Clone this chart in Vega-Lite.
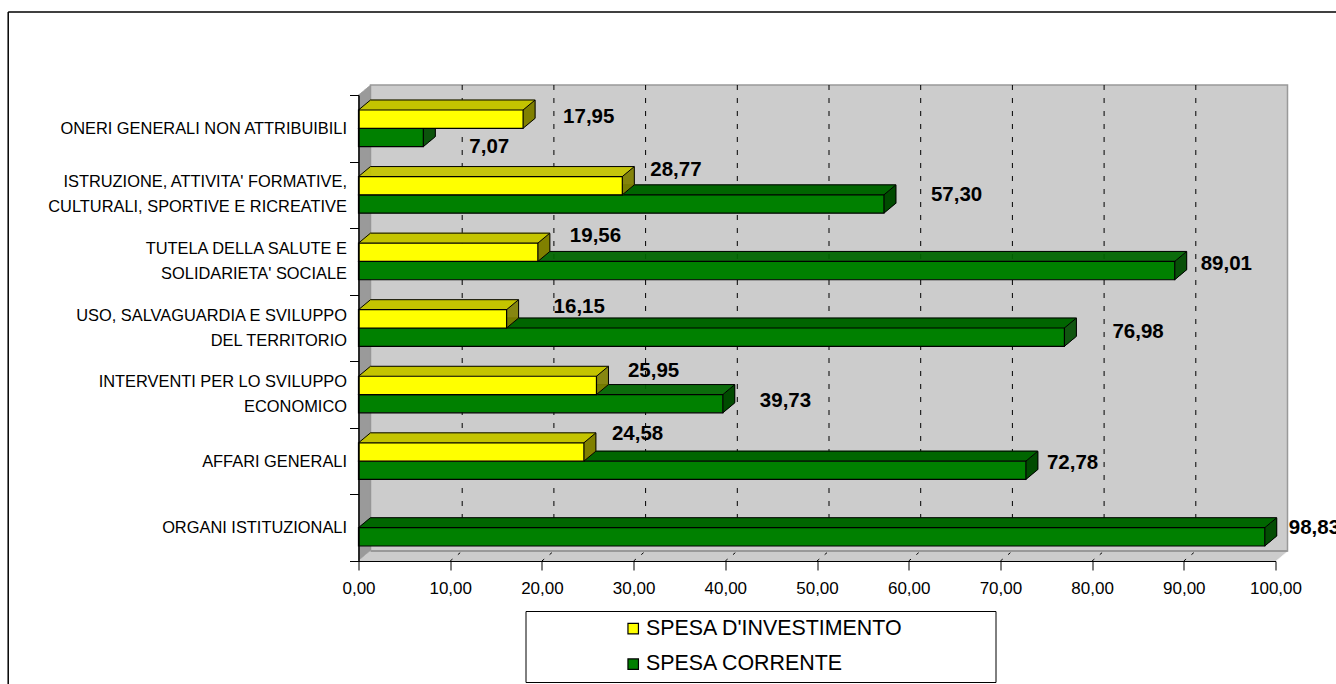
{"$schema":"https://vega.github.io/schema/vega-lite/v6.json","width":917,"height":466,"autosize":"none","padding":{"left":358.5,"top":95,"right":60.5,"bottom":123},"background":"white",
"config":{"view":{"stroke":null},"font":"Liberation Sans","locale":{"number":{"decimal":",","thousands":".","grouping":[3],"currency":["","€"]}}},
"datasets":{
"verde":[{"c":"ONERI GENERALI NON ATTRIBUIBILI","v":7.07,"s":"SPESA CORRENTE"},{"c":"ISTRUZIONE, ATTIVITA' FORMATIVE,|CULTURALI, SPORTIVE E RICREATIVE","v":57.30,"s":"SPESA CORRENTE"},{"c":"TUTELA DELLA SALUTE E|SOLIDARIETA' SOCIALE","v":89.01,"s":"SPESA CORRENTE"},{"c":"USO, SALVAGUARDIA E SVILUPPO|DEL TERRITORIO","v":76.98,"s":"SPESA CORRENTE"},{"c":"INTERVENTI PER LO SVILUPPO|ECONOMICO","v":39.73,"s":"SPESA CORRENTE"},{"c":"AFFARI GENERALI","v":72.78,"s":"SPESA CORRENTE"},{"c":"ORGANI ISTITUZIONALI","v":98.83,"s":"SPESA CORRENTE"}],
"giallo":[{"c":"ONERI GENERALI NON ATTRIBUIBILI","v":17.95,"s":"SPESA D'INVESTIMENTO"},{"c":"ISTRUZIONE, ATTIVITA' FORMATIVE,|CULTURALI, SPORTIVE E RICREATIVE","v":28.77,"s":"SPESA D'INVESTIMENTO"},{"c":"TUTELA DELLA SALUTE E|SOLIDARIETA' SOCIALE","v":19.56,"s":"SPESA D'INVESTIMENTO"},{"c":"USO, SALVAGUARDIA E SVILUPPO|DEL TERRITORIO","v":16.15,"s":"SPESA D'INVESTIMENTO"},{"c":"INTERVENTI PER LO SVILUPPO|ECONOMICO","v":25.95,"s":"SPESA D'INVESTIMENTO"},{"c":"AFFARI GENERALI","v":24.58,"s":"SPESA D'INVESTIMENTO"}],
"griglia":[{"t":10,"c":"ORGANI ISTITUZIONALI"},{"t":20,"c":"ORGANI ISTITUZIONALI"},{"t":30,"c":"ORGANI ISTITUZIONALI"},{"t":40,"c":"ORGANI ISTITUZIONALI"},{"t":50,"c":"ORGANI ISTITUZIONALI"},{"t":60,"c":"ORGANI ISTITUZIONALI"},{"t":70,"c":"ORGANI ISTITUZIONALI"},{"t":80,"c":"ORGANI ISTITUZIONALI"},{"t":90,"c":"ORGANI ISTITUZIONALI"}],
"sfondo":[{"a":0,"b":100,"c":"ORGANI ISTITUZIONALI"}]},
"layer":[
{"data":{"name":"sfondo"},"layer":[
{"mark":{"type":"rect","fill":"#CCCCCC","stroke":"#999999","strokeWidth":1.5,"xOffset":12,"x2Offset":12,"yOffset":-442.7,"y2Offset":23.3},"encoding":{"x":{"field":"a","type":"quantitative"},"x2":{"field":"b"},"y":{"field":"c","type":"nominal"},"y2":{"field":"c"}}},
{"mark":{"type":"rule","stroke":"#969696","strokeWidth":1.6,"xOffset":0.5,"yOffset":-433.1,"y2Offset":32.9},"encoding":{"x":{"field":"a","type":"quantitative"},"y":{"field":"c","type":"nominal"},"y2":{"field":"c"}}},
{"mark":{"type":"rule","stroke":"#969696","strokeWidth":1.6,"xOffset":1.5,"yOffset":-433.95,"y2Offset":32.05},"encoding":{"x":{"field":"a","type":"quantitative"},"y":{"field":"c","type":"nominal"},"y2":{"field":"c"}}},
{"mark":{"type":"rule","stroke":"#969696","strokeWidth":1.6,"xOffset":2.5,"yOffset":-434.8,"y2Offset":31.2},"encoding":{"x":{"field":"a","type":"quantitative"},"y":{"field":"c","type":"nominal"},"y2":{"field":"c"}}},
{"mark":{"type":"rule","stroke":"#969696","strokeWidth":1.6,"xOffset":3.5,"yOffset":-435.6,"y2Offset":30.4},"encoding":{"x":{"field":"a","type":"quantitative"},"y":{"field":"c","type":"nominal"},"y2":{"field":"c"}}},
{"mark":{"type":"rule","stroke":"#969696","strokeWidth":1.6,"xOffset":4.5,"yOffset":-436.45,"y2Offset":29.55},"encoding":{"x":{"field":"a","type":"quantitative"},"y":{"field":"c","type":"nominal"},"y2":{"field":"c"}}},
{"mark":{"type":"rule","stroke":"#969696","strokeWidth":1.6,"xOffset":5.5,"yOffset":-437.3,"y2Offset":28.7},"encoding":{"x":{"field":"a","type":"quantitative"},"y":{"field":"c","type":"nominal"},"y2":{"field":"c"}}},
{"mark":{"type":"rule","stroke":"#969696","strokeWidth":1.6,"xOffset":6.5,"yOffset":-438.1,"y2Offset":27.9},"encoding":{"x":{"field":"a","type":"quantitative"},"y":{"field":"c","type":"nominal"},"y2":{"field":"c"}}},
{"mark":{"type":"rule","stroke":"#969696","strokeWidth":1.6,"xOffset":7.5,"yOffset":-438.95,"y2Offset":27.05},"encoding":{"x":{"field":"a","type":"quantitative"},"y":{"field":"c","type":"nominal"},"y2":{"field":"c"}}},
{"mark":{"type":"rule","stroke":"#969696","strokeWidth":1.6,"xOffset":8.5,"yOffset":-439.8,"y2Offset":26.2},"encoding":{"x":{"field":"a","type":"quantitative"},"y":{"field":"c","type":"nominal"},"y2":{"field":"c"}}},
{"mark":{"type":"rule","stroke":"#969696","strokeWidth":1.6,"xOffset":9.5,"yOffset":-440.6,"y2Offset":25.4},"encoding":{"x":{"field":"a","type":"quantitative"},"y":{"field":"c","type":"nominal"},"y2":{"field":"c"}}},
{"mark":{"type":"rule","stroke":"#969696","strokeWidth":1.6,"xOffset":10.5,"yOffset":-441.45,"y2Offset":24.55},"encoding":{"x":{"field":"a","type":"quantitative"},"y":{"field":"c","type":"nominal"},"y2":{"field":"c"}}},
{"mark":{"type":"rule","stroke":"#969696","strokeWidth":1.6,"xOffset":11.5,"yOffset":-442.3,"y2Offset":23.7},"encoding":{"x":{"field":"a","type":"quantitative"},"y":{"field":"c","type":"nominal"},"y2":{"field":"c"}}},
{"mark":{"type":"rule","stroke":"#CCCCCC","strokeWidth":1.6,"xOffset":0.6,"x2Offset":0.6,"yOffset":32.8},"encoding":{"x":{"field":"a","type":"quantitative"},"x2":{"field":"b"},"y":{"field":"c","type":"nominal"}}},
{"mark":{"type":"rule","stroke":"#CCCCCC","strokeWidth":1.6,"xOffset":1.8,"x2Offset":1.8,"yOffset":31.8},"encoding":{"x":{"field":"a","type":"quantitative"},"x2":{"field":"b"},"y":{"field":"c","type":"nominal"}}},
{"mark":{"type":"rule","stroke":"#CCCCCC","strokeWidth":1.6,"xOffset":3,"x2Offset":3,"yOffset":30.8},"encoding":{"x":{"field":"a","type":"quantitative"},"x2":{"field":"b"},"y":{"field":"c","type":"nominal"}}},
{"mark":{"type":"rule","stroke":"#CCCCCC","strokeWidth":1.6,"xOffset":4.2,"x2Offset":4.2,"yOffset":29.8},"encoding":{"x":{"field":"a","type":"quantitative"},"x2":{"field":"b"},"y":{"field":"c","type":"nominal"}}},
{"mark":{"type":"rule","stroke":"#CCCCCC","strokeWidth":1.6,"xOffset":5.4,"x2Offset":5.4,"yOffset":28.8},"encoding":{"x":{"field":"a","type":"quantitative"},"x2":{"field":"b"},"y":{"field":"c","type":"nominal"}}},
{"mark":{"type":"rule","stroke":"#CCCCCC","strokeWidth":1.6,"xOffset":6.6,"x2Offset":6.6,"yOffset":27.8},"encoding":{"x":{"field":"a","type":"quantitative"},"x2":{"field":"b"},"y":{"field":"c","type":"nominal"}}},
{"mark":{"type":"rule","stroke":"#CCCCCC","strokeWidth":1.6,"xOffset":7.8,"x2Offset":7.8,"yOffset":26.8},"encoding":{"x":{"field":"a","type":"quantitative"},"x2":{"field":"b"},"y":{"field":"c","type":"nominal"}}},
{"mark":{"type":"rule","stroke":"#CCCCCC","strokeWidth":1.6,"xOffset":9,"x2Offset":9,"yOffset":25.8},"encoding":{"x":{"field":"a","type":"quantitative"},"x2":{"field":"b"},"y":{"field":"c","type":"nominal"}}},
{"mark":{"type":"rule","stroke":"#CCCCCC","strokeWidth":1.6,"xOffset":10.2,"x2Offset":10.2,"yOffset":24.8},"encoding":{"x":{"field":"a","type":"quantitative"},"x2":{"field":"b"},"y":{"field":"c","type":"nominal"}}},
{"mark":{"type":"rule","stroke":"#CCCCCC","strokeWidth":1.6,"xOffset":11.4,"x2Offset":11.4,"yOffset":23.8},"encoding":{"x":{"field":"a","type":"quantitative"},"x2":{"field":"b"},"y":{"field":"c","type":"nominal"}}},
{"mark":{"type":"rule","stroke":"#999999","strokeWidth":2,"xOffset":12,"x2Offset":12,"yOffset":23.3},"encoding":{"x":{"field":"a","type":"quantitative"},"x2":{"field":"b"},"y":{"field":"c","type":"nominal"}}},
{"mark":{"type":"rule","stroke":"black","strokeWidth":1.5,"yOffset":-515.7,"y2Offset":165},"encoding":{"x":{"datum":-38.2,"type":"quantitative"},"y":{"field":"c","type":"nominal"},"y2":{"field":"c"}}},
{"mark":{"type":"rule","stroke":"black","strokeWidth":1.5,"yOffset":-515.7},"encoding":{"x":{"datum":-38.2,"type":"quantitative"},"x2":{"datum":107},"y":{"field":"c","type":"nominal"}}}
]},
{"data":{"name":"griglia"},"mark":{"type":"rule","stroke":"black","strokeWidth":1,"strokeDash":[5,8],"xOffset":12,"yOffset":-442.7,"y2Offset":23.3},"encoding":{"x":{"field":"t","type":"quantitative"},"y":{"field":"c","type":"nominal"},"y2":{"field":"c"}}},
{"data":{"name":"griglia"},"mark":{"type":"rule","stroke":"black","strokeWidth":1,"strokeDash":[3,7],"x2Offset":12,"yOffset":33.3,"y2Offset":23.3},"encoding":{"x":{"field":"t","type":"quantitative"},"x2":{"field":"t"},"y":{"field":"c","type":"nominal"},"y2":{"field":"c"}}},
{"encoding":{
"x":{"field":"v","type":"quantitative","title":null,"scale":{"domain":[0,100],"nice":false,"zero":false},"axis":{"values":[0,10,20,30,40,50,60,70,80,90,100],"format":".2f","grid":false,"zindex":1,"domainColor":"black","tickColor":"black","tickSize":9,"labelFontSize":17,"labelColor":"black","labelPadding":10,"labelFlush":false,"labelOverlap":false,"labelFont":"Liberation Sans"}},
"y":{"field":"c","type":"nominal","title":null,"sort":null,"scale":{"domain":["ONERI GENERALI NON ATTRIBUIBILI","ISTRUZIONE, ATTIVITA' FORMATIVE,|CULTURALI, SPORTIVE E RICREATIVE","TUTELA DELLA SALUTE E|SOLIDARIETA' SOCIALE","USO, SALVAGUARDIA E SVILUPPO|DEL TERRITORIO","INTERVENTI PER LO SVILUPPO|ECONOMICO","AFFARI GENERALI","ORGANI ISTITUZIONALI"]},"axis":{"labelExpr":"split(datum.label,'|')","labelOffset":{"condition":{"test":"indexof(datum.label,'|')>=0","value":-13},"value":0},"tickBand":"extent","zindex":1,"domainColor":"black","domainWidth":1.5,"tickColor":"black","tickSize":9,"labelFontSize":16.4,"labelLineHeight":25,"labelColor":"black","labelPadding":3,"labelLimit":340,"labelFont":"Liberation Sans"}}},
"layer":[
{"data":{"name":"verde"},"layer":[
{"mark":{"type":"rule","stroke":"#006600","strokeWidth":1.6,"xOffset":0.6,"x2Offset":0.6,"yOffset":-0.5},"encoding":{"x2":{"datum":0}}},
{"mark":{"type":"rule","stroke":"#006600","strokeWidth":1.6,"xOffset":1.8,"x2Offset":1.8,"yOffset":-1.5},"encoding":{"x2":{"datum":0}}},
{"mark":{"type":"rule","stroke":"#006600","strokeWidth":1.6,"xOffset":3,"x2Offset":3,"yOffset":-2.5},"encoding":{"x2":{"datum":0}}},
{"mark":{"type":"rule","stroke":"#006600","strokeWidth":1.6,"xOffset":4.2,"x2Offset":4.2,"yOffset":-3.5},"encoding":{"x2":{"datum":0}}},
{"mark":{"type":"rule","stroke":"#006600","strokeWidth":1.6,"xOffset":5.4,"x2Offset":5.4,"yOffset":-4.5},"encoding":{"x2":{"datum":0}}},
{"mark":{"type":"rule","stroke":"#006600","strokeWidth":1.6,"xOffset":6.6,"x2Offset":6.6,"yOffset":-5.5},"encoding":{"x2":{"datum":0}}},
{"mark":{"type":"rule","stroke":"#006600","strokeWidth":1.6,"xOffset":7.8,"x2Offset":7.8,"yOffset":-6.5},"encoding":{"x2":{"datum":0}}},
{"mark":{"type":"rule","stroke":"#006600","strokeWidth":1.6,"xOffset":9,"x2Offset":9,"yOffset":-7.5},"encoding":{"x2":{"datum":0}}},
{"mark":{"type":"rule","stroke":"#006600","strokeWidth":1.6,"xOffset":10.2,"x2Offset":10.2,"yOffset":-8.5},"encoding":{"x2":{"datum":0}}},
{"mark":{"type":"rule","stroke":"#006600","strokeWidth":1.6,"xOffset":11.4,"x2Offset":11.4,"yOffset":-9.5},"encoding":{"x2":{"datum":0}}},
{"mark":{"type":"rule","stroke":"black","strokeWidth":1,"xOffset":12,"x2Offset":12,"yOffset":-10},"encoding":{"x2":{"datum":0}}},
{"mark":{"type":"tick","color":"#004C00","opacity":1,"size":18.3,"thickness":1.4,"xOffset":0.5,"yOffset":8.73}},
{"mark":{"type":"tick","color":"#004C00","opacity":1,"size":18.3,"thickness":1.4,"xOffset":1.5,"yOffset":7.9}},
{"mark":{"type":"tick","color":"#004C00","opacity":1,"size":18.3,"thickness":1.4,"xOffset":2.5,"yOffset":7.07}},
{"mark":{"type":"tick","color":"#004C00","opacity":1,"size":18.3,"thickness":1.4,"xOffset":3.5,"yOffset":6.23}},
{"mark":{"type":"tick","color":"#004C00","opacity":1,"size":18.3,"thickness":1.4,"xOffset":4.5,"yOffset":5.4}},
{"mark":{"type":"tick","color":"#004C00","opacity":1,"size":18.3,"thickness":1.4,"xOffset":5.5,"yOffset":4.57}},
{"mark":{"type":"tick","color":"#004C00","opacity":1,"size":18.3,"thickness":1.4,"xOffset":6.5,"yOffset":3.73}},
{"mark":{"type":"tick","color":"#004C00","opacity":1,"size":18.3,"thickness":1.4,"xOffset":7.5,"yOffset":2.9}},
{"mark":{"type":"tick","color":"#004C00","opacity":1,"size":18.3,"thickness":1.4,"xOffset":8.5,"yOffset":2.07}},
{"mark":{"type":"tick","color":"#004C00","opacity":1,"size":18.3,"thickness":1.4,"xOffset":9.5,"yOffset":1.23}},
{"mark":{"type":"tick","color":"#004C00","opacity":1,"size":18.3,"thickness":1.4,"xOffset":10.5,"yOffset":0.4}},
{"mark":{"type":"tick","color":"#004C00","opacity":1,"size":18.3,"thickness":1.4,"xOffset":11.5,"yOffset":-0.43}},
{"mark":{"type":"tick","color":"black","opacity":1,"size":18.3,"thickness":1,"xOffset":12,"yOffset":-0.85}},
{"mark":{"type":"rule","stroke":"black","strokeWidth":1,"x2Offset":12,"yOffset":0,"y2Offset":-10},"encoding":{"x2":{"field":"v"},"y2":{"field":"c"}}},
{"mark":{"type":"rule","stroke":"black","strokeWidth":1,"x2Offset":12,"yOffset":18.3,"y2Offset":8.3},"encoding":{"x2":{"field":"v"},"y2":{"field":"c"}}},
{"mark":{"type":"rule","stroke":"black","strokeWidth":1,"x2Offset":12,"yOffset":0,"y2Offset":-10},"encoding":{"x":{"datum":0},"x2":{"datum":0},"y2":{"field":"c"}}},
{"mark":{"type":"bar","height":18.3,"yOffset":9.15,"stroke":"black","strokeWidth":1.2},"encoding":{"color":{"field":"s","type":"nominal","scale":{"domain":["SPESA D'INVESTIMENTO","SPESA CORRENTE"],"range":["#FFFF00","#008000"]},"legend":{"orient":"none","legendX":167,"legendY":516,"title":"\u00a0","titleOrient":"right","titlePadding":86,"fillColor":"white","strokeColor":"black","padding":7,"symbolType":"square","symbolSize":110,"symbolStrokeColor":"black","symbolStrokeWidth":1.2,"symbolOffset":90,"labelOffset":2,"labelFontSize":21.4,"labelFont":"Liberation Sans","labelColor":"black","rowPadding":12.5,"labelLimit":400}}}}
]},
{"data":{"name":"giallo"},"layer":[
{"mark":{"type":"rule","stroke":"#C4C400","strokeWidth":1.6,"xOffset":0.6,"x2Offset":0.6,"yOffset":-18.8},"encoding":{"x2":{"datum":0}}},
{"mark":{"type":"rule","stroke":"#C4C400","strokeWidth":1.6,"xOffset":1.8,"x2Offset":1.8,"yOffset":-19.8},"encoding":{"x2":{"datum":0}}},
{"mark":{"type":"rule","stroke":"#C4C400","strokeWidth":1.6,"xOffset":3,"x2Offset":3,"yOffset":-20.8},"encoding":{"x2":{"datum":0}}},
{"mark":{"type":"rule","stroke":"#C4C400","strokeWidth":1.6,"xOffset":4.2,"x2Offset":4.2,"yOffset":-21.8},"encoding":{"x2":{"datum":0}}},
{"mark":{"type":"rule","stroke":"#C4C400","strokeWidth":1.6,"xOffset":5.4,"x2Offset":5.4,"yOffset":-22.8},"encoding":{"x2":{"datum":0}}},
{"mark":{"type":"rule","stroke":"#C4C400","strokeWidth":1.6,"xOffset":6.6,"x2Offset":6.6,"yOffset":-23.8},"encoding":{"x2":{"datum":0}}},
{"mark":{"type":"rule","stroke":"#C4C400","strokeWidth":1.6,"xOffset":7.8,"x2Offset":7.8,"yOffset":-24.8},"encoding":{"x2":{"datum":0}}},
{"mark":{"type":"rule","stroke":"#C4C400","strokeWidth":1.6,"xOffset":9,"x2Offset":9,"yOffset":-25.8},"encoding":{"x2":{"datum":0}}},
{"mark":{"type":"rule","stroke":"#C4C400","strokeWidth":1.6,"xOffset":10.2,"x2Offset":10.2,"yOffset":-26.8},"encoding":{"x2":{"datum":0}}},
{"mark":{"type":"rule","stroke":"#C4C400","strokeWidth":1.6,"xOffset":11.4,"x2Offset":11.4,"yOffset":-27.8},"encoding":{"x2":{"datum":0}}},
{"mark":{"type":"rule","stroke":"black","strokeWidth":1,"xOffset":12,"x2Offset":12,"yOffset":-28.3},"encoding":{"x2":{"datum":0}}},
{"mark":{"type":"tick","color":"#808000","opacity":1,"size":18.3,"thickness":1.4,"xOffset":0.5,"yOffset":-9.57}},
{"mark":{"type":"tick","color":"#808000","opacity":1,"size":18.3,"thickness":1.4,"xOffset":1.5,"yOffset":-10.4}},
{"mark":{"type":"tick","color":"#808000","opacity":1,"size":18.3,"thickness":1.4,"xOffset":2.5,"yOffset":-11.23}},
{"mark":{"type":"tick","color":"#808000","opacity":1,"size":18.3,"thickness":1.4,"xOffset":3.5,"yOffset":-12.07}},
{"mark":{"type":"tick","color":"#808000","opacity":1,"size":18.3,"thickness":1.4,"xOffset":4.5,"yOffset":-12.9}},
{"mark":{"type":"tick","color":"#808000","opacity":1,"size":18.3,"thickness":1.4,"xOffset":5.5,"yOffset":-13.73}},
{"mark":{"type":"tick","color":"#808000","opacity":1,"size":18.3,"thickness":1.4,"xOffset":6.5,"yOffset":-14.57}},
{"mark":{"type":"tick","color":"#808000","opacity":1,"size":18.3,"thickness":1.4,"xOffset":7.5,"yOffset":-15.4}},
{"mark":{"type":"tick","color":"#808000","opacity":1,"size":18.3,"thickness":1.4,"xOffset":8.5,"yOffset":-16.23}},
{"mark":{"type":"tick","color":"#808000","opacity":1,"size":18.3,"thickness":1.4,"xOffset":9.5,"yOffset":-17.07}},
{"mark":{"type":"tick","color":"#808000","opacity":1,"size":18.3,"thickness":1.4,"xOffset":10.5,"yOffset":-17.9}},
{"mark":{"type":"tick","color":"#808000","opacity":1,"size":18.3,"thickness":1.4,"xOffset":11.5,"yOffset":-18.73}},
{"mark":{"type":"tick","color":"black","opacity":1,"size":18.3,"thickness":1,"xOffset":12,"yOffset":-19.15}},
{"mark":{"type":"rule","stroke":"black","strokeWidth":1,"x2Offset":12,"yOffset":-18.3,"y2Offset":-28.3},"encoding":{"x2":{"field":"v"},"y2":{"field":"c"}}},
{"mark":{"type":"rule","stroke":"black","strokeWidth":1,"x2Offset":12,"yOffset":0,"y2Offset":-10},"encoding":{"x2":{"field":"v"},"y2":{"field":"c"}}},
{"mark":{"type":"rule","stroke":"black","strokeWidth":1,"x2Offset":12,"yOffset":-18.3,"y2Offset":-28.3},"encoding":{"x":{"datum":0},"x2":{"datum":0},"y2":{"field":"c"}}},
{"mark":{"type":"bar","height":18.3,"yOffset":-9.15,"stroke":"black","strokeWidth":1.2},"encoding":{"color":{"field":"s","type":"nominal"}}}
]},
{"data":{"name":"giallo"},"transform":[{"filter":"datum.v==17.95"}],"mark":{"type":"text","align":"left","baseline":"middle","fontSize":20.5,"fontWeight":"bold","xOffset":40,"yOffset":-11},"encoding":{"text":{"field":"v","format":".2f"}}},
{"data":{"name":"verde"},"transform":[{"filter":"datum.v==7.07"}],"mark":{"type":"text","align":"left","baseline":"middle","fontSize":20.5,"fontWeight":"bold","xOffset":46,"yOffset":18.5},"encoding":{"text":{"field":"v","format":".2f"}}},
{"data":{"name":"giallo"},"transform":[{"filter":"datum.v==28.77"}],"mark":{"type":"text","align":"left","baseline":"middle","fontSize":20.5,"fontWeight":"bold","xOffset":28,"yOffset":-25},"encoding":{"text":{"field":"v","format":".2f"}}},
{"data":{"name":"verde"},"transform":[{"filter":"datum.v==57.3"}],"mark":{"type":"text","align":"left","baseline":"middle","fontSize":20.5,"fontWeight":"bold","xOffset":47,"yOffset":0},"encoding":{"text":{"field":"v","format":".2f"}}},
{"data":{"name":"giallo"},"transform":[{"filter":"datum.v==19.56"}],"mark":{"type":"text","align":"left","baseline":"middle","fontSize":20.5,"fontWeight":"bold","xOffset":32,"yOffset":-25},"encoding":{"text":{"field":"v","format":".2f"}}},
{"data":{"name":"verde"},"transform":[{"filter":"datum.v==89.01"}],"mark":{"type":"text","align":"left","baseline":"middle","fontSize":20.5,"fontWeight":"bold","xOffset":26,"yOffset":2.5},"encoding":{"text":{"field":"v","format":".2f"}}},
{"data":{"name":"giallo"},"transform":[{"filter":"datum.v==16.15"}],"mark":{"type":"text","align":"left","baseline":"middle","fontSize":20.5,"fontWeight":"bold","xOffset":47,"yOffset":-21},"encoding":{"text":{"field":"v","format":".2f"}}},
{"data":{"name":"verde"},"transform":[{"filter":"datum.v==76.98"}],"mark":{"type":"text","align":"left","baseline":"middle","fontSize":20.5,"fontWeight":"bold","xOffset":48,"yOffset":4},"encoding":{"text":{"field":"v","format":".2f"}}},
{"data":{"name":"giallo"},"transform":[{"filter":"datum.v==25.95"}],"mark":{"type":"text","align":"left","baseline":"middle","fontSize":20.5,"fontWeight":"bold","xOffset":31.5,"yOffset":-23.5},"encoding":{"text":{"field":"v","format":".2f"}}},
{"data":{"name":"verde"},"transform":[{"filter":"datum.v==39.73"}],"mark":{"type":"text","align":"left","baseline":"middle","fontSize":20.5,"fontWeight":"bold","xOffset":37,"yOffset":6.5},"encoding":{"text":{"field":"v","format":".2f"}}},
{"data":{"name":"giallo"},"transform":[{"filter":"datum.v==24.58"}],"mark":{"type":"text","align":"left","baseline":"middle","fontSize":20.5,"fontWeight":"bold","xOffset":28,"yOffset":-27},"encoding":{"text":{"field":"v","format":".2f"}}},
{"data":{"name":"verde"},"transform":[{"filter":"datum.v==72.78"}],"mark":{"type":"text","align":"left","baseline":"middle","fontSize":20.5,"fontWeight":"bold","xOffset":21,"yOffset":2},"encoding":{"text":{"field":"v","format":".2f"}}},
{"data":{"name":"verde"},"transform":[{"filter":"datum.v==98.83"}],"mark":{"type":"text","align":"left","baseline":"middle","fontSize":20.5,"fontWeight":"bold","xOffset":24,"yOffset":0},"encoding":{"text":{"field":"v","format":".2f"}}}
]}
]}
